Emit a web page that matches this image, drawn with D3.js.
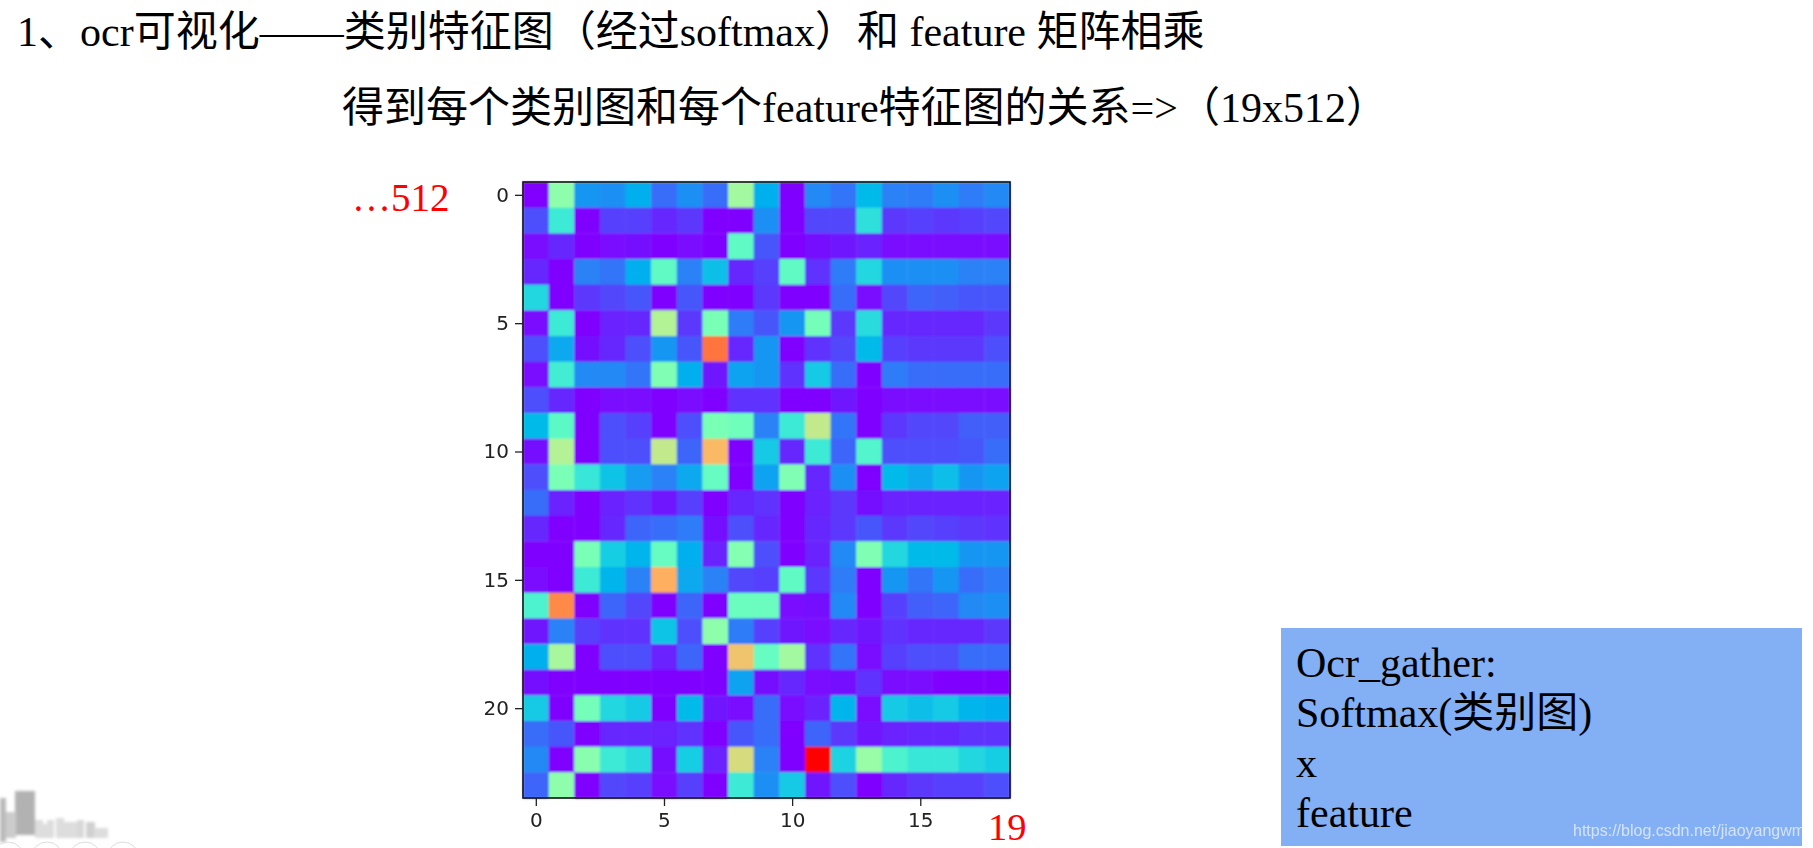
<!DOCTYPE html>
<html><head><meta charset="utf-8">
<script src="https://d3js.org/d3.v7.min.js"></script>
<style>
html,body{margin:0;padding:0;background:#fff;overflow:hidden}
svg{display:block}
.t{font-family:"Liberation Serif","Noto Sans CJK SC",serif;fill:#000}
.red{font-family:"Liberation Serif",serif;fill:#f00}
.tick text{font-family:"DejaVu Sans",sans-serif;font-size:20px;fill:#222}
</style></head><body>
<script>
const rowLabels = [0,5,10,15,20];
const colLabels = [0,5,10,15];
const heat = [
[0,.53,.2,.19,.24,.14,.19,.14,.57,.24,0,.18,.15,.26,.17,.16,.19,.16,.18],
[.1,.37,0,.08,.08,.05,.07,0,0,.19,0,.09,.09,.34,.07,.08,.07,.08,.09],
[.01,.05,0,.01,.02,0,.01,0,.44,.11,0,.02,.03,.04,.01,.01,.01,.01,.01],
[.05,0,.17,.15,.24,.44,.17,.27,.05,.08,.44,.06,.16,.32,.19,.19,.19,.17,.17],
[.32,0,.07,.09,.11,0,.11,0,0,.07,0,0,.14,.01,.09,.13,.12,.11,.11],
[.01,.37,0,.04,.05,.6,.07,.49,.16,.11,.2,.48,.07,.33,.05,.05,.05,.05,.07],
[.1,.23,.02,.05,.1,.2,.11,.85,.05,.2,0,.06,.09,.26,.08,.07,.07,.07,.1],
[.01,.38,.18,.18,.15,.5,.24,.03,.22,.2,.06,.29,.14,0,.16,.14,.14,.14,.14],
[.1,.05,0,.01,.01,0,.01,0,.06,.06,0,0,.03,0,.01,.01,.01,.01,.01],
[.26,.43,0,.1,.08,0,.1,.49,.47,.17,.37,.63,.15,0,.07,.09,.09,.12,.12],
[.02,.6,0,.1,.1,.63,.13,.74,0,.29,.05,.37,.13,.41,.1,.1,.1,.11,.14],
[.1,.49,.36,.28,.21,.17,.23,.45,0,.22,.5,.05,.19,0,.26,.23,.27,.2,.22],
[.14,.04,0,.04,.06,.03,.08,0,.05,.06,0,.04,.07,.02,.04,.04,.04,.04,.04],
[.05,0,0,.05,.13,.14,.16,.02,.1,.05,0,.05,.07,.11,.07,.09,.08,.07,.06],
[0,0,.49,.3,.25,.45,.24,.04,.51,.1,0,.04,.18,.5,.32,.26,.26,.2,.2],
[.01,0,.37,.25,.17,.76,.23,.17,.09,.08,.44,.07,.16,0,.2,.15,.2,.14,.16],
[.4,.82,0,.13,.09,0,.13,0,.46,.46,.01,.02,.18,0,.08,.12,.13,.18,.19],
[.03,.17,.08,.06,.06,.28,.1,.53,.16,.08,.03,.01,.05,.03,.06,.05,.05,.05,.07],
[.24,.58,0,.1,.1,.04,.13,0,.72,.45,.57,.06,.15,.01,.08,.1,.1,.14,.14],
[.02,0,0,0,0,0,0,0,.22,.02,.05,.01,.02,.06,.01,.01,0,0,0],
[.29,0,.48,.32,.29,0,.26,.03,.01,.14,.01,.04,.25,.01,.29,.27,.29,.25,.24],
[.14,.11,0,.05,.05,.04,.06,0,.11,.14,0,.13,.07,.03,.04,.05,.05,.06,.06],
[.18,0,.52,.37,.33,.02,.3,.04,.67,.17,0,1,.31,.55,.4,.36,.36,.32,.3],
[.13,.53,0,.09,.08,.01,.08,0,.37,.19,.29,.03,.1,0,.05,.07,.08,.08,.1]
];
const titleLines = ["1、ocr可视化——类别特征图（经过softmax）和 feature 矩阵相乘","得到每个类别图和每个feature特征图的关系=>（19x512）"];
const boxLines = ["Ocr_gather:","Softmax(类别图)","x","feature"];
const watermark = "https://blog.csdn.net/jiaoyangwm";

const W=1813,H=848;
const rainbow = v => d3.rgb(255*Math.min(1,Math.abs(2*v-0.5)),255*Math.sin(Math.PI*v),255*Math.cos(Math.PI*v/2));
const svg=d3.select("body").append("svg").attr("width",W).attr("height",H);
const defs=svg.append("defs");
defs.append("filter").attr("id","soft").append("feGaussianBlur").attr("stdDeviation",0.9);
defs.append("filter").attr("id","softer").append("feGaussianBlur").attr("stdDeviation",0.45);
defs.append("filter").attr("id","fog").append("feGaussianBlur").attr("stdDeviation",1.6);

// faint skyline decoration
const sky=svg.append("g").attr("filter","url(#fog)");
[[0,798,6,44,"#bbb"],[15,791,20,44,"#b2b2b2"],[6,812,10,26,"#ccc"],[35,820,8,18,"#ddd"],[40,824,10,14,"#ddd"],[47,820,7,18,"#ddd"],[56,818,8,20,"#ddd"],[64,822,14,16,"#ddd"],[77,820,7,18,"#d8d8d8"],[86,822,9,16,"#d0d0d0"],[94,828,14,10,"#ddd"]]
 .forEach(d=>sky.append("rect").attr("x",d[0]).attr("y",d[1]).attr("width",d[2]).attr("height",d[3]).attr("fill",d[4]));
[8,47,85,123].forEach(c=>svg.append("circle").attr("cx",c).attr("cy",858).attr("r",16).attr("fill","none").attr("stroke","#ddd"));

const x=d3.scaleLinear().domain([-0.5,18.5]).range([523,1010]);
const y=d3.scaleLinear().domain([-0.5,23.5]).range([182,798]);
const cells=svg.append("g").attr("filter","url(#soft)");
heat.forEach((row,r)=>row.forEach((v,c)=>{
  cells.append("rect").attr("x",x(c-.5)).attr("y",y(r-.5))
    .attr("width",x(c+.5)-x(c-.5)+.4).attr("height",y(r+.5)-y(r-.5)+.4)
    .attr("fill",rainbow(v));
}));
svg.append("rect").attr("x",x(-.5)).attr("y",y(-.5)).attr("width",x(18.5)-x(-.5)).attr("height",y(23.5)-y(-.5))
  .attr("fill","none").attr("stroke","#111").attr("stroke-width",1.6);
const ax=svg.append("g").attr("transform",`translate(0,${y(23.5)})`).call(d3.axisBottom(x).tickValues(colLabels).tickSize(8).tickPadding(7));
const ay=svg.append("g").attr("transform",`translate(${x(-.5)},0)`).call(d3.axisLeft(y).tickValues(rowLabels).tickSize(8).tickPadding(6));
[ax,ay].forEach(a=>{a.attr("filter","url(#softer)");a.select(".domain").remove();a.selectAll("line").attr("stroke","#222").attr("stroke-width",1.3);});

svg.append("text").attr("class","t").attr("x",17).attr("y",46).attr("font-size",42).text(titleLines[0]);
svg.append("text").attr("class","t").attr("x",342).attr("y",121.5).attr("font-size",42).text(titleLines[1]);
svg.append("text").attr("class","red").attr("x",352).attr("y",210.5).attr("font-size",39).text("…512");
svg.append("text").attr("class","red").attr("x",988).attr("y",839.5).attr("font-size",38.5).text("19");

const bx=1281,by=628;
svg.append("rect").attr("x",bx).attr("y",by).attr("width",521).attr("height",218).attr("fill","#83aff5");
boxLines.forEach((s,i)=>svg.append("text").attr("class","t").attr("x",bx+15).attr("y",by+48.5+i*50.3).attr("font-size",42).text(s));
svg.append("text").attr("x",1573).attr("y",836).attr("font-family","'Liberation Sans',sans-serif").attr("font-size",16).attr("fill","#fff").attr("opacity",.65).text(watermark);
</script></body></html>
